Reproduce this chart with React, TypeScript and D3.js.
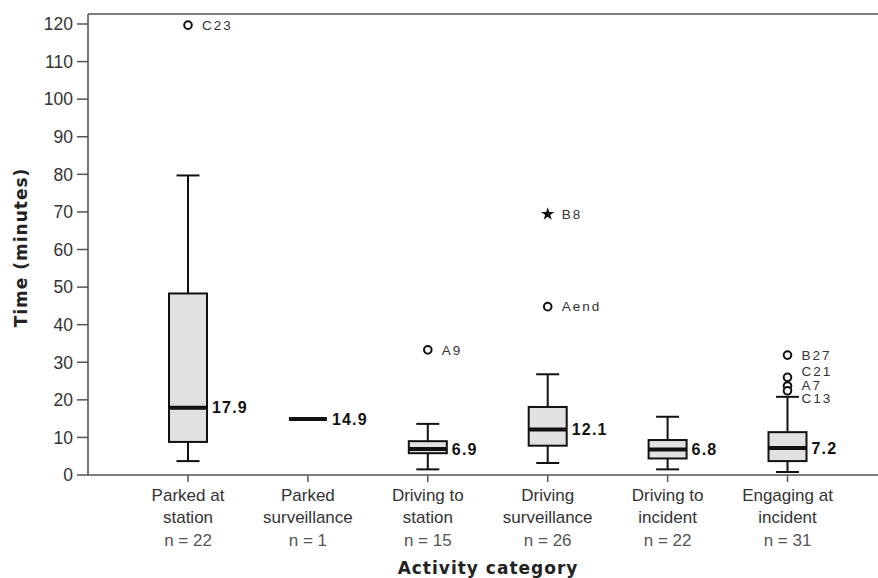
import React from "react";
import * as d3 from "d3";

const categories = ["Parked at station", "Parked surveillance", "Driving to station", "Driving surveillance", "Driving to incident", "Engaging at incident"];
const catLine1 = ["Parked at", "Parked", "Driving to", "Driving", "Driving to", "Engaging at"];
const catLine2 = ["station", "surveillance", "station", "surveillance", "incident", "incident"];
const nCounts = [22, 1, 15, 26, 22, 31];

const whiskerLow = [3.7, 14.9, 1.5, 3.2, 1.5, 0.8];
const q1 = [8.8, 14.9, 5.8, 7.8, 4.4, 3.7];
const medians = [17.9, 14.9, 6.9, 12.1, 6.8, 7.2];
const q3 = [48.3, 14.9, 9.0, 18.1, 9.3, 11.4];
const whiskerHigh = [79.7, 14.9, 13.6, 26.8, 15.5, 20.8];

const outlierCategory = ["Parked at station", "Driving to station", "Driving surveillance", "Driving surveillance", "Engaging at incident", "Engaging at incident", "Engaging at incident", "Engaging at incident"];
const outlierValue = [119.7, 33.3, 69.4, 44.8, 31.9, 26.0, 23.7, 22.4];
const outlierLabel = ["C23", "A9", "B8", "Aend", "B27", "C21", "A7", "C13"];
const outlierSymbol = ["circle", "circle", "star", "circle", "circle", "circle", "circle", "circle"];

const yTicks = [0, 10, 20, 30, 40, 50, 60, 70, 80, 90, 100, 110, 120];

const W = 878, H = 578;
const plotLeft = 88, plotRight = 878, plotTop = 14, plotBottom = 475;

const x = d3.scalePoint<string>().domain(categories).range([188, 787.5]);
const y = d3.scaleLinear().domain([0, (plotBottom - plotTop) / (451 / 120)]).range([plotBottom, plotTop]);

const BOX_W = 38;
const CAP_W = 23;
const LABEL_GAP = 13.5;

function spreadLabels(ys: number[], gap: number): number[] {
  const order = ys.map((v, i) => i).sort((a, b) => ys[a] - ys[b]);
  type Cl = { idx: number[]; mean: number };
  const clusters: Cl[] = [];
  for (const i of order) {
    clusters.push({ idx: [i], mean: ys[i] });
    while (clusters.length > 1) {
      const a = clusters[clusters.length - 2];
      const b = clusters[clusters.length - 1];
      const aBottom = a.mean + ((a.idx.length - 1) * gap) / 2;
      const bTop = b.mean - ((b.idx.length - 1) * gap) / 2;
      if (bTop - aBottom < gap) {
        const idx = a.idx.concat(b.idx);
        const mean = idx.reduce((s, k) => s + ys[k], 0) / idx.length;
        clusters.splice(clusters.length - 2, 2, { idx, mean });
      } else break;
    }
  }
  const out = new Array(ys.length).fill(0);
  for (const c of clusters) {
    const n = c.idx.length;
    c.idx.forEach((k, j) => {
      out[k] = c.mean + (j - (n - 1) / 2) * gap;
    });
  }
  return out;
}

const sansFont = "'Liberation Sans', Arial, sans-serif";
const boldFont = "'DejaVu Sans', sans-serif";

export default function App() {
  const labelY: number[] = new Array(outlierValue.length).fill(0);
  categories.forEach((c) => {
    const idxs = outlierCategory.map((oc, i) => (oc === c ? i : -1)).filter((i) => i >= 0);
    const ys = idxs.map((i) => y(outlierValue[i]));
    const spread = spreadLabels(ys, LABEL_GAP);
    idxs.forEach((i, j) => (labelY[i] = spread[j]));
  });
  const star = d3.symbol(d3.symbolStar, 55)() as string;

  return (
    <svg width={W} height={H} style={{ position: "absolute", left: 0, top: 0, background: "#fff" }}>
      <line x1={plotLeft} x2={plotRight} y1={plotTop} y2={plotTop} stroke="#555" strokeWidth={1.6} />
      <line x1={plotLeft} x2={plotRight} y1={plotBottom} y2={plotBottom} stroke="#555" strokeWidth={1.6} />
      <line x1={plotLeft} x2={plotLeft} y1={plotTop} y2={plotBottom} stroke="#555" strokeWidth={1.6} />

      {yTicks.map((t) => (
        <g key={t}>
          <line x1={plotLeft - 11} x2={plotLeft} y1={y(t)} y2={y(t)} stroke="#555" strokeWidth={1.5} />
          <text x={plotLeft - 15} y={y(t)} dy="0.36em" textAnchor="end" fontFamily={sansFont} fontSize={17.5} fill="#333">
            {t}
          </text>
        </g>
      ))}

      {categories.map((c, i) => {
        const cx = x(c)!;
        return (
          <g key={c}>
            <line x1={cx} x2={cx} y1={plotBottom} y2={plotBottom + 7} stroke="#555" strokeWidth={1.5} />
            <text x={cx} y={501} textAnchor="middle" fontFamily={sansFont} fontSize={17} fill="#333">{catLine1[i]}</text>
            <text x={cx} y={523} textAnchor="middle" fontFamily={sansFont} fontSize={17} fill="#333">{catLine2[i]}</text>
            <text x={cx} y={546} textAnchor="middle" fontFamily={sansFont} fontSize={17} fill="#555">{`n = ${nCounts[i]}`}</text>
          </g>
        );
      })}

      <text x={488} y={574} textAnchor="middle" fontFamily={boldFont} fontWeight="bold" fontSize={17} letterSpacing={1} fill="#222">
        Activity category
      </text>
      <text transform={`translate(27,${(plotTop + plotBottom) / 2 + 3}) rotate(-90)`} textAnchor="middle" fontFamily={boldFont} fontWeight="bold" fontSize={17} letterSpacing={1} fill="#222">
        Time (minutes)
      </text>

      {categories.map((c, i) => {
        const cx = x(c)!;
        return (
          <g key={c}>
            <line x1={cx} x2={cx} y1={y(whiskerHigh[i])} y2={y(q3[i])} stroke="#111" strokeWidth={2} />
            <line x1={cx} x2={cx} y1={y(q1[i])} y2={y(whiskerLow[i])} stroke="#111" strokeWidth={2} />
            <line x1={cx - CAP_W / 2} x2={cx + CAP_W / 2} y1={y(whiskerHigh[i])} y2={y(whiskerHigh[i])} stroke="#111" strokeWidth={2} />
            <line x1={cx - CAP_W / 2} x2={cx + CAP_W / 2} y1={y(whiskerLow[i])} y2={y(whiskerLow[i])} stroke="#111" strokeWidth={2} />
            <rect x={cx - BOX_W / 2} y={y(q3[i])} width={BOX_W} height={y(q1[i]) - y(q3[i])} fill="#e1e1e1" stroke="#111" strokeWidth={2} />
            <line x1={cx - BOX_W / 2} x2={cx + BOX_W / 2} y1={y(medians[i])} y2={y(medians[i])} stroke="#111" strokeWidth={4} />
            <text x={cx + BOX_W / 2 + 5} y={y(medians[i])} dy="0.36em" fontFamily={sansFont} fontWeight="bold" fontSize={16} letterSpacing={1.2} fill="#111">
              {medians[i].toFixed(1)}
            </text>
          </g>
        );
      })}

      {outlierValue.map((v, i) => {
        const cx = x(outlierCategory[i])!;
        const cy = y(v);
        return (
          <g key={outlierLabel[i]}>
            {outlierSymbol[i] === "star" ? (
              <path d={star} transform={`translate(${cx},${cy})`} fill="#111" />
            ) : (
              <circle cx={cx} cy={cy} r={3.8} fill="#fff" stroke="#111" strokeWidth={2} />
            )}
            <text x={cx + 14} y={labelY[i]} dy="0.36em" fontFamily={sansFont} fontSize={13.5} letterSpacing={2} fill="#333">
              {outlierLabel[i]}
            </text>
          </g>
        );
      })}
    </svg>
  );
}
